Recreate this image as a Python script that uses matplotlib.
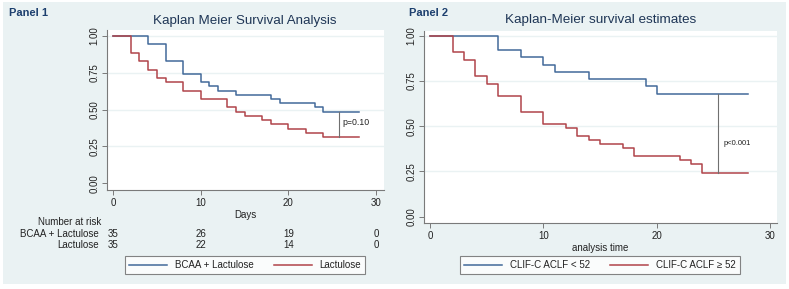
import matplotlib
matplotlib.use("Agg")
import matplotlib.pyplot as plt
from matplotlib.patches import Rectangle
from matplotlib.transforms import blended_transform_factory

plt.rcParams['font.family'] = ['Liberation Sans', 'DejaVu Sans']

# ---------------- data ----------------
# Panel 1
p1_bcaa_t = [0, 4, 6, 8, 10, 11, 12, 14, 18, 19, 23, 24, 28]
p1_bcaa_s = [1.0, 0.943, 0.829, 0.743, 0.686, 0.657, 0.629, 0.600, 0.571, 0.543, 0.514, 0.486, 0.486]
p1_lac_t = [0, 2, 3, 4, 5, 6, 8, 10, 13, 14, 15, 17, 18, 20, 22, 24, 28]
p1_lac_s = [1.0, 0.886, 0.829, 0.771, 0.714, 0.686, 0.629, 0.571, 0.514, 0.486, 0.457, 0.429,
            0.400, 0.371, 0.343, 0.314, 0.314]
p1_pline_x = 25.8
p1_ptext = "p=0.10"
risk_times = [0, 10, 20, 30]
risk_bcaa = [35, 26, 19, 0]
risk_lac = [35, 22, 14, 0]
p1_labels = ["BCAA + Lactulose", "Lactulose"]

# Panel 2
p2_low_t = [0, 6, 8, 10, 11, 14, 19, 20, 28]
p2_low_s = [1.0, 0.92, 0.88, 0.84, 0.80, 0.76, 0.72, 0.68, 0.68]
p2_high_t = [0, 2, 3, 4, 5, 6, 8, 10, 12, 13, 14, 15, 17, 18, 22, 23, 24, 28]
p2_high_s = [1.0, 0.911, 0.867, 0.778, 0.733, 0.667, 0.578, 0.511, 0.489, 0.444, 0.422, 0.400,
             0.378, 0.333, 0.311, 0.289, 0.244, 0.244]
p2_pline_x = 25.4
p2_ptext = "p<0.001"
p2_labels = ["CLIF-C ACLF < 52", "CLIF-C ACLF \u2265 52"]

xticks = [0, 10, 20, 30]
yticks = [0.0, 0.25, 0.5, 0.75, 1.0]
ytick_labels = ["0.00", "0.25", "0.50", "0.75", "1.00"]

# ---------------- style ----------------
W, H = 789, 289
BG = "#eaf2f3"
BLUE = "#42699a"
RED = "#b0444a"
AXC = "#7a7a7a"
TXT = "#222222"
TITLEC = "#1f3656"
PANELC = "#1d3f6e"
FS = 7

fig = plt.figure(figsize=(W / 100, H / 100), dpi=100)
fig.patch.set_facecolor("white")
fig.patches.append(Rectangle((3 / W, 1 - 284 / H), 783 / W, 282 / H, transform=fig.transFigure,
                             facecolor=BG, edgecolor="none", zorder=-10))


def px_axes(x0, y0, x1, y1):
    return fig.add_axes([x0 / W, 1 - y1 / H, (x1 - x0) / W, (y1 - y0) / H])


def style_ax(ax, xlim, ylim):
    ax.set_facecolor("white")
    ax.set_xlim(*xlim)
    ax.set_ylim(*ylim)
    for s in ["top", "right"]:
        ax.spines[s].set_visible(False)
    for s in ["left", "bottom"]:
        ax.spines[s].set_color(AXC)
        ax.spines[s].set_linewidth(0.8)
    ax.set_xticks(xticks)
    ax.set_yticks(yticks)
    ax.set_yticklabels(ytick_labels, rotation=90, va="center")
    ax.tick_params(axis="both", direction="out", length=3.5, width=0.7, color=AXC,
                   labelsize=FS, labelcolor=TXT, pad=2)
    for y in yticks[1:]:
        ax.axhline(y, color=BG, lw=1.0, zorder=0)


def make_legend(ax, cx):
    leg = ax.legend(loc="center", bbox_to_anchor=(cx / W, 1 - 265 / H), bbox_transform=fig.transFigure,
                    ncol=2, fontsize=FS, frameon=True, fancybox=False, handlelength=3.9,
                    handletextpad=0.8, columnspacing=2.1, borderpad=0.4, labelcolor=TXT)
    leg.get_frame().set_edgecolor("#666666")
    leg.get_frame().set_linewidth(0.8)
    return leg


# ---------------- Panel 1 ----------------
ax1 = px_axes(107, 30, 384, 190)
style_ax(ax1, (-0.68, 30.9), (-0.045, 1.039))
ax1.step(p1_bcaa_t, p1_bcaa_s, where="post", color=BLUE, lw=1.1, label=p1_labels[0])
ax1.step(p1_lac_t, p1_lac_s, where="post", color=RED, lw=1.1, label=p1_labels[1])
ax1.plot([p1_pline_x, p1_pline_x], [p1_lac_s[-1], p1_bcaa_s[-1]], color="#707070", lw=0.8)
ax1.text(p1_pline_x + 0.4, (p1_lac_s[-1] + p1_bcaa_s[-1]) / 2 + 0.01, p1_ptext, fontsize=6.3,
         color=TXT, ha="left", va="center")
ax1.set_xlabel("Days", fontsize=FS, color=TXT, labelpad=2)

tr1 = blended_transform_factory(ax1.transData, fig.transFigure)
fig.text(101 / W, 1 - 222 / H, "Number at risk", fontsize=FS, color=TXT, ha="right", va="center")
fig.text(99 / W, 1 - 234 / H, p1_labels[0], fontsize=FS, color=TXT, ha="right", va="center")
fig.text(99 / W, 1 - 245.5 / H, p1_labels[1], fontsize=FS, color=TXT, ha="right", va="center")
for t, a, b in zip(risk_times, risk_bcaa, risk_lac):
    ax1.text(t, 1 - 234 / H, str(a), transform=tr1, fontsize=FS, color=TXT, ha="center", va="center")
    ax1.text(t, 1 - 245.5 / H, str(b), transform=tr1, fontsize=FS, color=TXT, ha="center", va="center")

make_legend(ax1, 245)

fig.text(245 / W, 1 - 21 / H, "Kaplan Meier Survival Analysis", fontsize=9.6, color=TITLEC,
         ha="center", va="center")
fig.text(9 / W, 1 - 13 / H, "Panel 1", fontsize=8, fontweight="bold", color=PANELC,
         ha="left", va="center")

# ---------------- Panel 2 ----------------
ax2 = px_axes(424, 31, 777, 223)
style_ax(ax2, (-0.53, 30.59), (-0.035, 1.026))
ax2.step(p2_low_t, p2_low_s, where="post", color=BLUE, lw=1.1, label=p2_labels[0])
ax2.step(p2_high_t, p2_high_s, where="post", color=RED, lw=1.1, label=p2_labels[1])
ax2.plot([p2_pline_x, p2_pline_x], [p2_high_s[-1], p2_low_s[-1]], color="#707070", lw=0.8)
ax2.text(p2_pline_x + 0.5, 0.407, p2_ptext, fontsize=5.5, color=TXT, ha="left", va="center")
ax2.set_xlabel("analysis time", fontsize=FS, color=TXT, labelpad=2)

make_legend(ax2, 600)

fig.text(601 / W, 1 - 20 / H, "Kaplan-Meier survival estimates", fontsize=9.7, color=TITLEC,
         ha="center", va="center")
fig.text(409 / W, 1 - 13.5 / H, "Panel 2", fontsize=8, fontweight="bold", color=PANELC,
         ha="left", va="center")

fig.savefig("out.png", dpi=100, facecolor=fig.get_facecolor())
